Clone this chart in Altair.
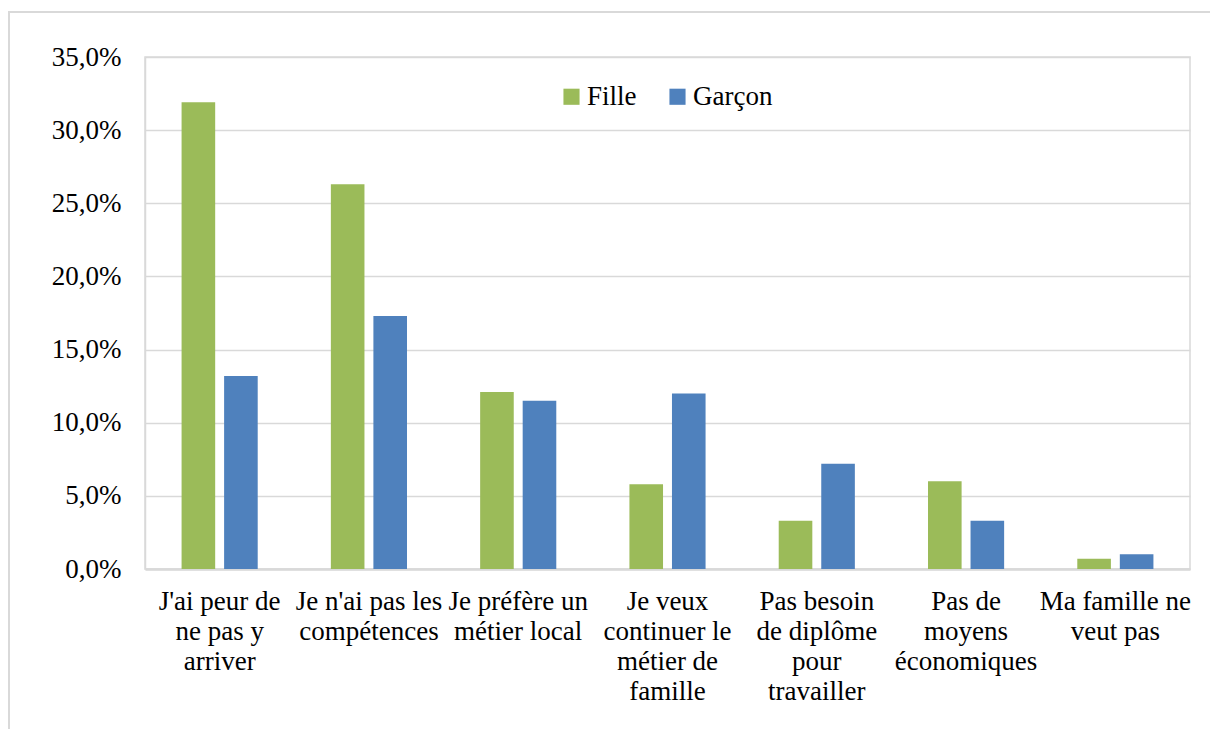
import altair as alt
import pandas as pd

categories = [
    "J'ai peur de\nne pas y\narriver",
    "Je n'ai pas les\ncompétences",
    "Je préfère un\nmétier local",
    "Je veux\ncontinuer le\nmétier de\nfamille",
    "Pas besoin\nde diplôme\npour\ntravailler",
    "Pas de\nmoyens\néconomiques",
    "Ma famille ne\nveut pas",
]
fille = [0.319, 0.263, 0.121, 0.058, 0.033, 0.060, 0.007]
garcon = [0.132, 0.173, 0.115, 0.120, 0.072, 0.033, 0.010]
series = ["Fille", "Garçon"]
colors = ["#9BBB59", "#4F81BD"]
y_ticks = [0.0, 0.05, 0.10, 0.15, 0.20, 0.25, 0.30, 0.35]

rows = []
for c, f, g in zip(categories, fille, garcon):
    rows.append({"cat": c, "serie": "Fille", "val": f})
    rows.append({"cat": c, "serie": "Garçon", "val": g})
df = pd.DataFrame(rows)

FONT = "'Liberation Serif', 'DejaVu Serif', serif"

bars = alt.Chart(df).mark_bar().encode(
    x=alt.X("cat:N", sort=categories, title=None,
            scale=alt.Scale(paddingInner=0.49, paddingOuter=0.245),
            axis=alt.Axis(labelAngle=0, labelExpr="split(datum.label, '\\n')",
                          labelFontSize=27, labelFont=FONT, labelColor="#000000",
                          labelLineHeight=30, labelPadding=19, labelLimit=400,
                          ticks=False, domainColor="#d9d9d9", domainWidth=2.5,
                          grid=False)),
    xOffset=alt.XOffset("serie:N", sort=series,
                        scale=alt.Scale(paddingInner=0.21, paddingOuter=0)),
    y=alt.Y("val:Q", title=None,
            scale=alt.Scale(domain=[0, 0.35], nice=False),
            axis=alt.Axis(values=y_ticks,
                          labelExpr="replace(format(datum.value, '.1%'), '.', ',')",
                          labelFontSize=27, labelFont=FONT, labelColor="#000000",
                          labelPadding=24, ticks=False,
                          domainColor="#d9d9d9", domainWidth=1.5,
                          gridColor="#d9d9d9", gridWidth=1.5)),
    color=alt.Color("serie:N", sort=series,
                    scale=alt.Scale(domain=series, range=colors),
                    legend=alt.Legend(title=None, orient="none", direction="horizontal",
                                      legendX=413, legendY=26,
                                      symbolType="square", symbolSize=260,
                                      symbolStrokeWidth=0,
                                      labelFont=FONT, labelFontSize=27,
                                      labelColor="#000000", labelOffset=2,
                                      columnPadding=27)),
)

frame = alt.Chart(pd.DataFrame({"k": [0]})).mark_rect(
    fill=None, stroke="#d9d9d9", strokeWidth=2, clip=False
).encode(
    x=alt.value(-136), x2=alt.value(1070),
    y=alt.value(-45), y2=alt.value(700),
)

chart = alt.layer(frame, bars).properties(
    width=1045, height=512,
    padding={"left": 137, "top": 49, "right": 20, "bottom": 160},
    autosize=alt.AutoSizeParams(type="none"),
).configure_view(stroke="#d9d9d9", strokeWidth=1.5)

chart.save("out.html", embed_options={"renderer": "svg", "actions": False})
